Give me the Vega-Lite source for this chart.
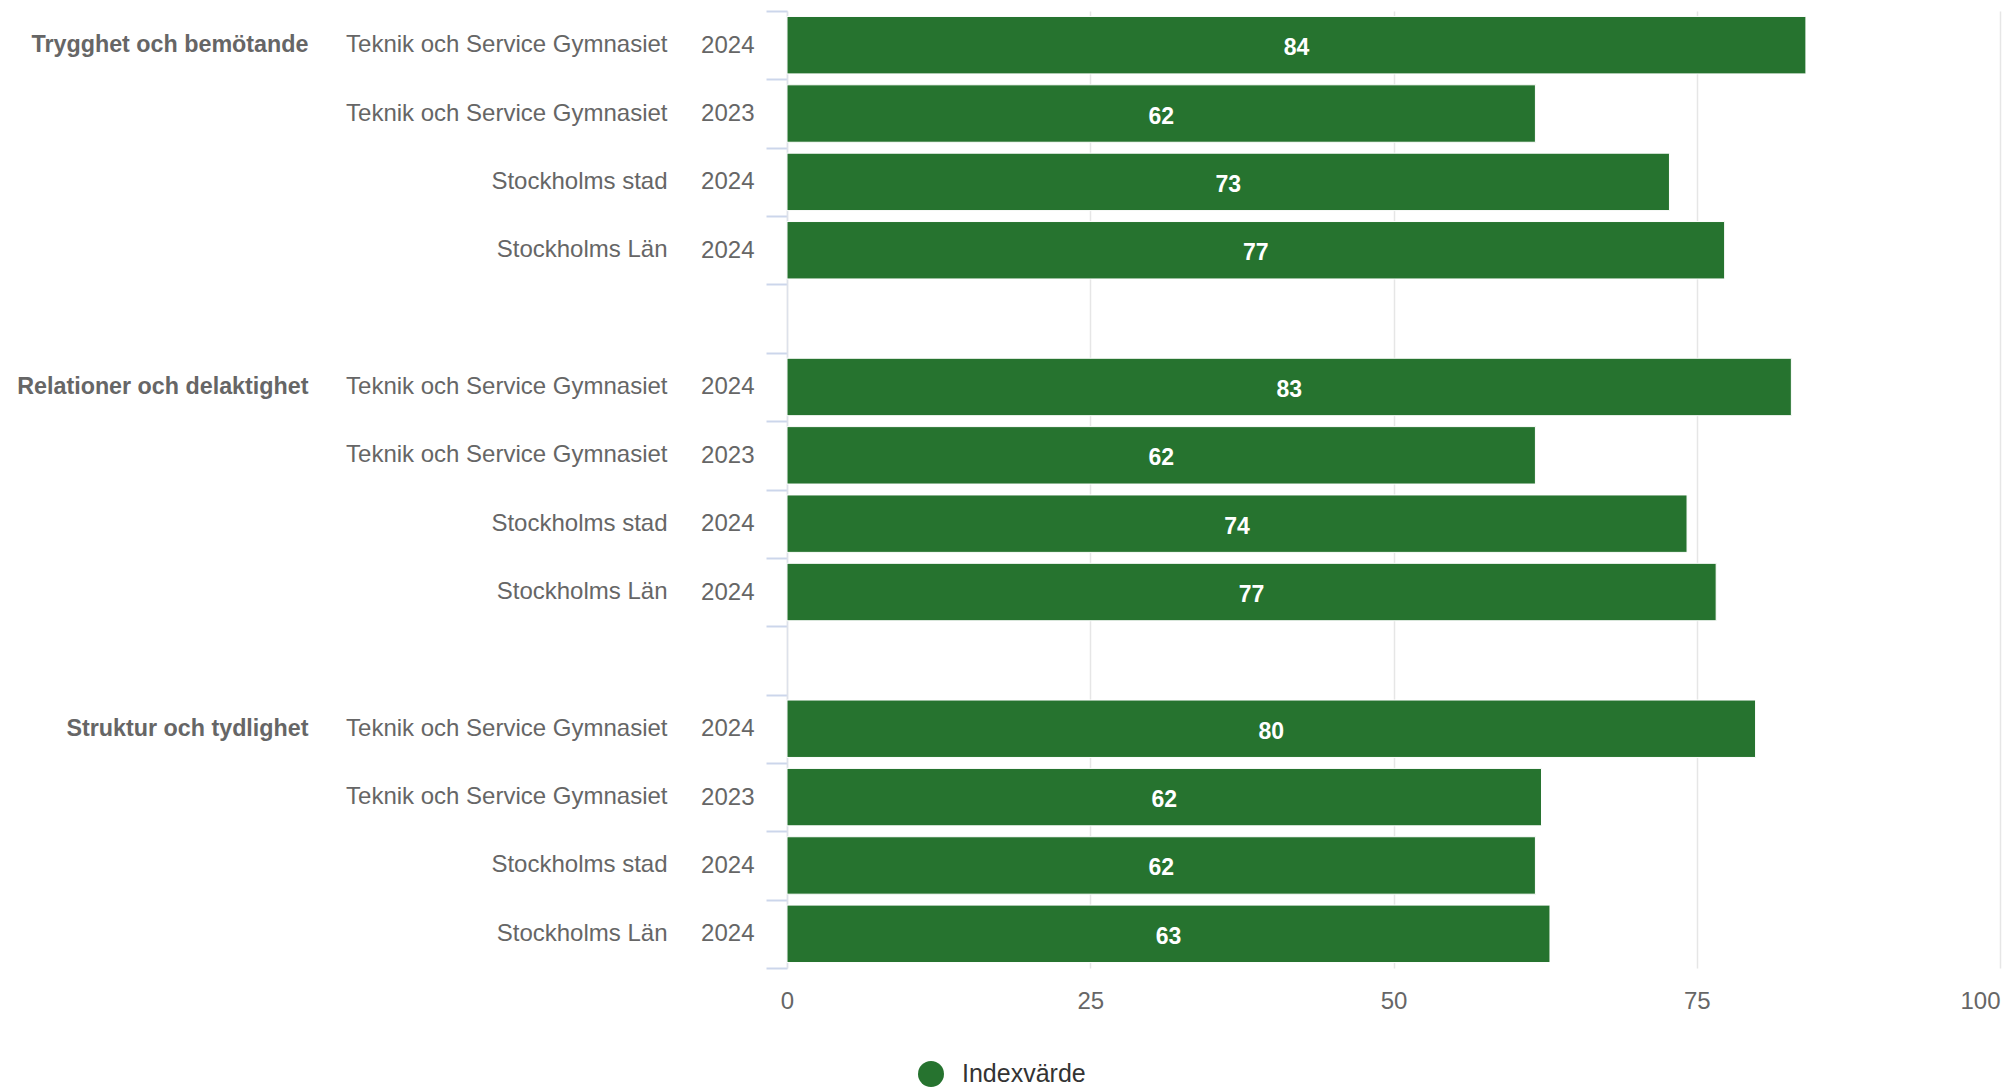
{
  "$schema": "https://vega.github.io/schema/vega-lite/v6.json",
  "width": 1213,
  "height": 957,
  "autosize": {"type": "none"},
  "padding": {"left": 787, "top": 11, "right": 9, "bottom": 120},
  "background": "white",
  "config": {"view": {"stroke": null}, "font": "Liberation Sans"},
  "data": {
    "values": [
      {"group": "Trygghet och bemötande", "name": "Teknik och Service Gymnasiet", "year": "2024", "value": 84.0},
      {"group": "Trygghet och bemötande", "name": "Teknik och Service Gymnasiet", "year": "2023", "value": 61.7},
      {"group": "Trygghet och bemötande", "name": "Stockholms stad", "year": "2024", "value": 72.75},
      {"group": "Trygghet och bemötande", "name": "Stockholms Län", "year": "2024", "value": 77.3},
      {"group": "Relationer och delaktighet", "name": "Teknik och Service Gymnasiet", "year": "2024", "value": 82.8},
      {"group": "Relationer och delaktighet", "name": "Teknik och Service Gymnasiet", "year": "2023", "value": 61.7},
      {"group": "Relationer och delaktighet", "name": "Stockholms stad", "year": "2024", "value": 74.2},
      {"group": "Relationer och delaktighet", "name": "Stockholms Län", "year": "2024", "value": 76.6},
      {"group": "Struktur och tydlighet", "name": "Teknik och Service Gymnasiet", "year": "2024", "value": 79.85},
      {"group": "Struktur och tydlighet", "name": "Teknik och Service Gymnasiet", "year": "2023", "value": 62.2},
      {"group": "Struktur och tydlighet", "name": "Stockholms stad", "year": "2024", "value": 61.7},
      {"group": "Struktur och tydlighet", "name": "Stockholms Län", "year": "2024", "value": 62.9}
    ]
  },
  "transform": [
    {"calculate": "datum.group + '|' + datum.name + '|' + datum.year", "as": "key"},
    {"calculate": "datum.value / 2", "as": "mid"}
  ],
  "layer": [
    {
      "mark": {"type": "bar", "height": {"band": 0.84}, "stroke": "#ffffff", "strokeWidth": 1},
      "encoding": {
        "y": {
          "field": "key", "type": "nominal",
          "scale": {"domain": [
            "Trygghet och bemötande|Teknik och Service Gymnasiet|2024",
            "Trygghet och bemötande|Teknik och Service Gymnasiet|2023",
            "Trygghet och bemötande|Stockholms stad|2024",
            "Trygghet och bemötande|Stockholms Län|2024",
            "gap1",
            "Relationer och delaktighet|Teknik och Service Gymnasiet|2024",
            "Relationer och delaktighet|Teknik och Service Gymnasiet|2023",
            "Relationer och delaktighet|Stockholms stad|2024",
            "Relationer och delaktighet|Stockholms Län|2024",
            "gap2",
            "Struktur och tydlighet|Teknik och Service Gymnasiet|2024",
            "Struktur och tydlighet|Teknik och Service Gymnasiet|2023",
            "Struktur och tydlighet|Stockholms stad|2024",
            "Struktur och tydlighet|Stockholms Län|2024"
          ], "paddingInner": 0, "paddingOuter": 0},
          "axis": {
            "orient": "left", "title": null,
            "labelExpr": "split(datum.value, '|')[2] || ''",
            "tickBand": "extent", "ticks": true, "tickSize": 21, "tickWidth": 2, "tickColor": "#ccd6eb",
            "domain": true, "domainColor": "#dde1ea", "domainWidth": 1.5,
            "labelPadding": 12, "labelFontSize": 24, "labelColor": "#666666", "labelFont": "Liberation Sans",
            "labelAlign": "right", "labelBaseline": "middle", "labelLimit": 1000, "grid": false
          }
        },
        "x": {
          "field": "value", "type": "quantitative",
          "scale": {"domain": [0, 100], "nice": false},
          "axis": {
            "title": null, "values": [0, 25, 50, 75, 100], "grid": true, "gridColor": "#e6e6e6", "gridWidth": 1.5,
            "domain": false, "ticks": false, "labelPadding": 21, "labelFontSize": 24, "labelColor": "#666666",
            "labelFont": "Liberation Sans", "labelFlush": false,
            "labelAlign": {"condition": {"test": "datum.value == 100", "value": "right"}, "value": "center"}
          }
        },
        "color": {
          "datum": "Indexvärde", "type": "nominal",
          "scale": {"range": ["#26732F"]},
          "legend": {
            "title": null, "orient": "none", "legendX": 131, "legendY": 1050,
            "symbolType": "circle", "symbolSize": 676, "symbolStrokeWidth": 0,
            "labelFontSize": 25, "labelColor": "#333333", "labelOffset": 18, "labelFont": "Liberation Sans"
          }
        }
      }
    },
    {
      "mark": {"type": "text", "fill": "#ffffff", "fontWeight": "bold", "fontSize": 23, "align": "center", "baseline": "middle", "dy": 3, "font": "Liberation Sans"},
      "encoding": {
        "y": {
          "field": "key", "type": "nominal",
          "axis": {
            "orient": "left", "title": null,
            "labelExpr": "split(datum.value, '|')[1] || ''",
            "ticks": false, "domain": false, "grid": false,
            "labelPadding": 120, "labelFontSize": 24, "labelColor": "#666666", "labelFont": "Liberation Sans",
            "labelAlign": "right", "labelBaseline": "middle", "labelLimit": 1000
          }
        },
        "x": {
          "field": "mid", "type": "quantitative",
          "axis": {
            "title": null, "values": [0, 25, 50, 75, 100], "grid": true, "gridColor": "#e6e6e6", "gridWidth": 1.5,
            "domain": false, "ticks": false, "labelPadding": 21, "labelFontSize": 24, "labelColor": "#666666",
            "labelFont": "Liberation Sans", "labelFlush": false,
            "labelAlign": {"condition": {"test": "datum.value == 100", "value": "right"}, "value": "center"}
          }
        },
        "text": {"field": "value", "type": "quantitative", "format": ".0f"}
      }
    },
    {
      "mark": {"type": "bar", "height": {"band": 0.84}, "opacity": 0},
      "encoding": {
        "y": {
          "field": "key", "type": "nominal",
          "axis": {
            "orient": "left", "title": null,
            "labelExpr": "(split(datum.value, '|')[1] == 'Teknik och Service Gymnasiet' && split(datum.value, '|')[2] == '2024') ? split(datum.value, '|')[0] : ''",
            "ticks": false, "domain": false, "grid": false,
            "labelPadding": 479, "labelFontSize": 23.3, "labelFontWeight": "bold", "labelColor": "#666666", "labelFont": "Liberation Sans",
            "labelAlign": "right", "labelBaseline": "middle", "labelLimit": 1000
          }
        },
        "x": {
          "field": "value", "type": "quantitative",
          "axis": {
            "title": null, "values": [0, 25, 50, 75, 100], "grid": true, "gridColor": "#e6e6e6", "gridWidth": 1.5,
            "domain": false, "ticks": false, "labelPadding": 21, "labelFontSize": 24, "labelColor": "#666666",
            "labelFont": "Liberation Sans", "labelFlush": false,
            "labelAlign": {"condition": {"test": "datum.value == 100", "value": "right"}, "value": "center"}
          }
        }
      }
    }
  ],
  "resolve": {"axis": {"y": "independent"}}
}
